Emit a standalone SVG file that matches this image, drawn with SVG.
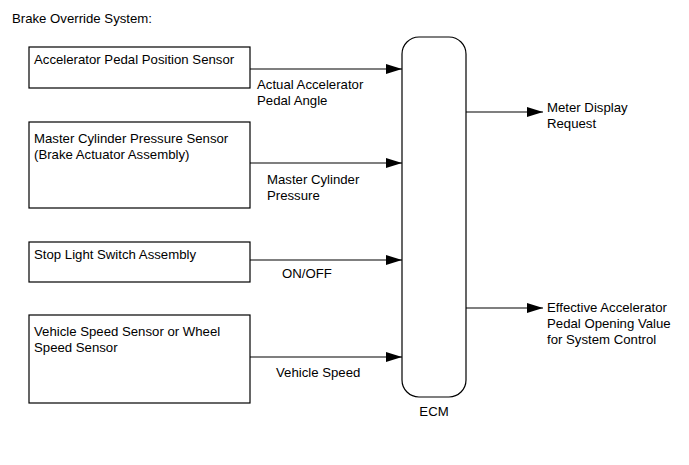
<svg xmlns="http://www.w3.org/2000/svg" width="689" height="465" viewBox="0 0 689 465">
<style>
text{font-family:"Liberation Sans",Arial,sans-serif;font-size:13.2px;fill:#000}
.box{fill:#fff;stroke:#000;stroke-width:1.2}
.ln{stroke:#000;stroke-width:1.2;fill:none;marker-end:url(#ah)}
</style>
<defs>
<marker id="ah" markerUnits="userSpaceOnUse" markerWidth="16" markerHeight="10" refX="16" refY="5" orient="auto">
<path d="M0,0 L16,5 L0,10 Z" fill="#000"/>
</marker>
</defs>
<rect width="689" height="465" fill="#fff"/>
<text x="12" y="23">Brake Override System:</text>
<g id="n1"><rect class="box" x="29" y="47" width="221" height="41"/><text x="34" y="64">Accelerator Pedal Position Sensor</text></g>
<g id="n2"><rect class="box" x="29" y="122" width="221" height="86"/><text x="34" y="143">Master Cylinder Pressure Sensor</text><text x="34" y="159">(Brake Actuator Assembly)</text></g>
<g id="n3"><rect class="box" x="29" y="242" width="221" height="40"/><text x="34" y="259">Stop Light Switch Assembly</text></g>
<g id="n4"><rect class="box" x="29" y="315" width="221" height="88"/><text x="34" y="336">Vehicle Speed Sensor or Wheel</text><text x="34" y="352">Speed Sensor</text></g>
<g id="ecm"><rect class="box" x="402" y="37" width="64" height="360" rx="17" ry="17"/><text x="434" y="416" text-anchor="middle">ECM</text></g>
<g id="connectors">
<line class="ln" x1="250" y1="69" x2="402" y2="69"/>
<line class="ln" x1="250" y1="163" x2="402" y2="163"/>
<line class="ln" x1="250" y1="260" x2="402" y2="260"/>
<line class="ln" x1="250" y1="357" x2="402" y2="357"/>
<line class="ln" x1="466" y1="112" x2="543" y2="112"/>
<line class="ln" x1="466" y1="308" x2="543" y2="308"/>
</g>
<g id="labels">
<text x="257" y="89">Actual Accelerator</text><text x="257" y="105">Pedal Angle</text>
<text x="267" y="184">Master Cylinder</text><text x="267" y="200">Pressure</text>
<text x="282" y="278">ON/OFF</text>
<text x="276" y="377">Vehicle Speed</text>
<text x="547" y="112">Meter Display</text><text x="547" y="128">Request</text>
<text x="547" y="312">Effective Accelerator</text><text x="547" y="328">Pedal Opening Value</text><text x="547" y="344">for System Control</text>
</g>
</svg>
